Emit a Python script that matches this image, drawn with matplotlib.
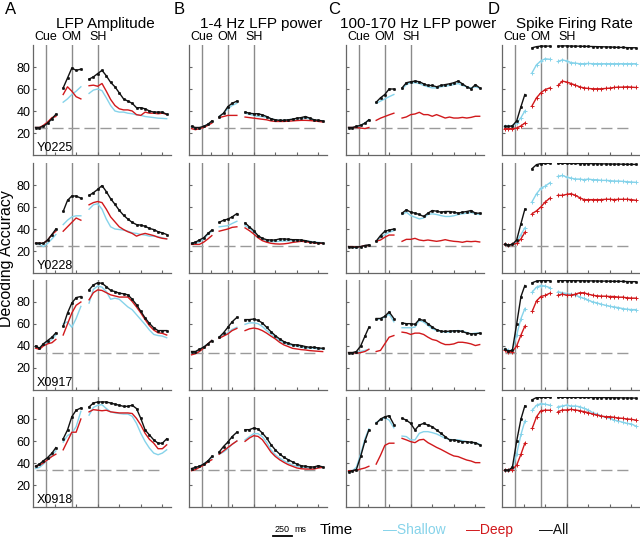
import matplotlib
matplotlib.use("Agg")
import matplotlib.pyplot as plt
from matplotlib.lines import Line2D

plt.rcParams['font.family'] = ['Liberation Sans', 'DejaVu Sans']

# time (ms) of the samples in the three epochs (around Cue, OM and SH)
t_cue = [30, 75, 120, 170, 220, 265]
t_om = [350, 400, 450, 500, 555]
t_sh = [650, 700, 750, 800, 850, 900, 950, 1000, 1050, 1100,
        1150, 1200, 1250, 1300, 1350, 1400, 1450, 1500, 1550]
event_names = ['Cue', 'OM', 'SH']
event_ms = [150, 450, 750]
x_ticks = [250, 500, 750, 1000, 1250, 1500]
y_ticks = [20, 40, 60, 80]

sessions = ['Y0225', 'Y0228', 'X0917', 'X0918']
chance = [25, 25, 33.3, 33.3]
titles = ['LFP Amplitude', '1-4 Hz LFP power', '100-170 Hz LFP power', 'Spike Firing Rate']
letters = ['A', 'B', 'C', 'D']

# ---- A: LFP amplitude ----
amp_Y0225_all = [25, 25, 26, 29, 33, 37, 61, 70, 79, 77, 78, 69, 71, 74, 77, 72, 66, 62, 56.5, 51, 49, 47, 43, 43, 42, 40, 39, 39, 39, 37]
amp_Y0225_sh = [25, 25, 26, 29, 33, 36, 48, 51, 55, 58, 62, 56, 59, 60, 58.5, 52, 45, 40, 39, 39, 38, 37.5, 36.5, 36, 35, 34.5, 34, 33.5, 33.3, 33]
amp_Y0225_dp = [25, 25, 27, 30, 34, 35, 55, 62, 58, 53, 51, 63, 63.5, 62.5, 65, 58, 50.5, 45, 42, 41, 41, 40, 36.7, 36, 39, 38, 38, 37.5, 38, 37]
amp_Y0228_all = [27, 27, 27, 30, 35, 40, 56, 66, 70, 70, 68, 70.5, 73, 76, 79.5, 74, 67.5, 62.5, 57, 52.5, 49, 46, 44, 43.5, 42.5, 40.5, 39.5, 37.5, 36.5, 35]
amp_Y0228_sh = [27, 26, 24, 27, 31, 35, 44, 48, 51, 52, 52, 58, 62, 63, 58, 49, 42, 40, 39.5, 39, 38, 36.5, 36, 35, 34.5, 33.5, 33.5, 33, 32, 31]
amp_Y0228_dp = [27, 27, 27, 30, 35, 38, 38, 42, 46, 50, 48, 62, 64, 65, 64, 58, 51, 46.5, 42, 39.5, 37.5, 36, 33.5, 35, 36, 35, 34, 32.5, 31.5, 31]
amp_X0917_all = [40, 38, 42, 45, 48, 52, 58, 70, 79, 84, 85, 91, 95.5, 97.5, 97, 94, 90.5, 89.5, 88, 87.5, 86.5, 82.5, 77.5, 71.5, 65.5, 60.5, 56.5, 54, 54, 54]
amp_X0917_sh = [39, 38, 41, 43, 46, 50, 60, 62, 57, 65, 76, 79, 91.5, 94.5, 93.5, 89.5, 82.5, 83.5, 82.5, 79, 75.5, 73, 68.5, 64, 59.5, 54.5, 50.5, 49.5, 49, 47.5]
amp_X0917_dp = [38, 37, 40, 42, 43, 46, 50, 60, 70, 77, 80, 82, 88.5, 91, 90.5, 88.5, 86.5, 85.5, 84.5, 84.5, 84.5, 80.5, 75.5, 70, 64, 58.5, 54.5, 52, 51.5, 50]
amp_X0918_all = [37, 39, 42, 45, 49, 54, 62, 70, 82, 88, 90, 91, 94.5, 95.5, 95.5, 95.5, 94.5, 93.5, 92.5, 91.5, 91.5, 92.5, 89.5, 80.5, 70, 65.5, 61, 58, 58, 62]
amp_X0918_sh = [35, 36, 39, 43, 47, 51, 59, 65, 67, 73, 87, 83.5, 90.5, 92.5, 93, 89.5, 86.5, 85.5, 85, 84.5, 84.5, 82.5, 76, 67, 59.5, 53.5, 49, 47.5, 49, 52]
amp_X0918_dp = [37, 38, 40, 43, 46, 48, 52, 60, 68, 68, 80, 86.5, 88.5, 88, 87.5, 88, 86.5, 86, 85.5, 85.5, 85.5, 85, 80.5, 74.5, 67, 61.5, 58, 53, 53, 56.5]

# ---- B: 1-4 Hz LFP power ----
low_Y0225_all = [26, 25, 25, 26, 28, 31, 35, 38, 44, 47, 49, 39, 38, 37.5, 37.5, 36.5, 35, 33, 32, 31.5, 31.5, 32, 32.5, 33.5, 34, 35, 33.5, 32, 31.5, 31]
low_Y0225_sh = [25, 24, 24, 26, 28, 30, 35, 38, 42, 45, 47, 38, 37, 36, 35, 35, 34, 33, 32, 31.5, 31.5, 32, 32.5, 33, 33, 33.5, 33, 32, 31, 30.5]
low_Y0225_dp = [24, 23, 24, 25, 27, 29, 34, 35, 36, 36, 36, 34.5, 34, 33.5, 33, 32.5, 32, 31, 30.5, 30.5, 30.5, 30.7, 31, 31.3, 31.5, 31.5, 31.3, 31, 30.5, 30]
low_Y0228_all = [27, 28, 30, 32, 36, 39, 46, 48, 49, 51, 54, 45.5, 42, 38.5, 34, 31.5, 30.3, 30, 30, 31, 31, 30.7, 30.3, 30.3, 30, 29.4, 28.5, 27.8, 27.5, 27.2]
low_Y0228_sh = [27, 27, 28, 31, 35, 38, 42, 42.5, 43, 45, 47, 43, 41, 37, 33.5, 30.5, 29.5, 28.5, 28.5, 28.8, 29, 29.2, 29.4, 29.4, 29.4, 29.3, 28.8, 28.2, 27.8, 27.5]
low_Y0228_dp = [26, 26, 26, 28, 31, 34, 38, 39, 40, 41.5, 42, 41, 38.5, 35.5, 32, 29.4, 28, 27, 26.5, 26.3, 26.5, 27, 27.8, 28.3, 28.8, 28.5, 27.8, 27.3, 27, 26.9]
low_X0917_all = [35, 35, 37, 39, 42, 45, 48, 52, 57, 62, 66, 64, 64, 64.5, 63.3, 61, 57, 53, 49.5, 46.5, 44, 42.5, 41.3, 41, 40.4, 39.5, 38.8, 38.8, 38.2, 37.9]
low_X0917_sh = [34, 34, 36, 39, 42, 45, 48, 50, 52, 55, 57, 59.7, 61, 61, 60.3, 57.8, 54, 51, 48, 45, 42.8, 41.3, 40.4, 39.8, 38.8, 38.2, 37.9, 37.9, 37.3, 37]
low_X0917_dp = [32, 33, 35, 38, 42, 45, 47, 49, 51, 54, 56, 54, 55.6, 56.3, 55.6, 54, 51.7, 49, 46.5, 43.4, 41, 39.5, 37.9, 37.3, 36.7, 36.4, 35.8, 35.5, 35.2, 34.9]
low_X0918_all = [35, 36, 37, 39, 42, 46, 50, 55, 59, 64, 68, 70.3, 70.3, 71.8, 70.9, 67.3, 62.7, 56.7, 52, 48.2, 45.2, 43, 41, 39, 37.6, 37, 36.4, 36.4, 37.6, 36.4]
low_X0918_sh = [34, 35, 37, 39, 42, 45, 48, 50, 53, 57, 60, 61, 64, 66.7, 66.7, 64, 58.8, 52, 47.6, 44.5, 42, 40, 38.2, 37, 36.4, 35.8, 35.5, 35.5, 36, 36]
low_X0918_dp = [33, 34, 36, 38, 41, 43, 48, 51, 54, 57, 60, 59.7, 62.7, 64.8, 64.2, 61.2, 55.8, 50, 46, 43, 40.6, 38.5, 37, 35.5, 34.8, 34.5, 34.5, 34.5, 35.5, 36]

# ---- C: 100-170 Hz LFP power ----
high_Y0225_all = [25, 25, 26, 27, 29, 32, 48, 52, 55, 60, 60, 61, 65.7, 66.6, 67.2, 66.6, 64.7, 63.2, 63.2, 62, 63.2, 64, 64.7, 65.7, 67.2, 64.7, 62, 60.2, 64, 61]
high_Y0225_sh = [25, 25, 25.5, 27, 29, 32, 47, 49, 51, 53, 55, 60, 64, 65.7, 65.7, 65, 63.2, 62, 61, 61, 62, 62.6, 63.2, 64, 65, 63.2, 62, 61, 62, 60.8]
high_Y0225_dp = [25, 25, 25, 24.5, 24, 25, 31.5, 33.5, 35, 36.5, 38, 33.6, 34.6, 36.7, 37.3, 38.8, 36.7, 36.7, 35.2, 36.7, 35.2, 33.6, 34.5, 33.6, 33.6, 34.2, 33.6, 34.2, 35.2, 35.2]
high_Y0228_all = [24, 23.5, 23.5, 24, 25, 25.5, 29, 34, 38, 39, 40, 54.4, 57.5, 55.3, 54.4, 53.2, 51.4, 54.4, 56.8, 56.2, 55.3, 55.9, 55.9, 55.3, 54.4, 55.3, 55.9, 56.8, 54.4, 54.4]
high_Y0228_sh = [24, 23.5, 22.5, 24, 25, 25.5, 29, 32, 35, 37, 38.5, 53.2, 55.3, 52.2, 50.7, 49.2, 50, 53.2, 53.8, 53.2, 52.2, 51.4, 51.4, 52, 53.2, 53.8, 54.4, 55, 53.8, 53.2]
high_Y0228_dp = [24, 24, 23.5, 24, 25, 25, 29, 30, 32.5, 34.5, 34.5, 28.8, 30.6, 30.6, 31.5, 30, 29.4, 30, 29.4, 28.8, 29.4, 30.3, 29.4, 28.8, 28.5, 27.9, 28.8, 28.5, 28.8, 28.2]
high_X0917_all = [34, 34, 35, 40, 49, 57, 65, 65, 67, 71, 65, 61, 60.3, 60.3, 59.7, 64.2, 63.3, 60.3, 57.2, 54.8, 53.5, 53.2, 53.5, 53.8, 53.8, 53.2, 51.7, 51.1, 51.1, 51.7]
high_X0917_sh = [34, 34, 34, 35, 36, 37, 64, 65, 66, 69, 62, 56.6, 56.6, 56.6, 57.2, 63.3, 61.8, 58.7, 55.7, 54.1, 53.2, 52.6, 52.6, 53.5, 54.1, 53.5, 52.3, 51.1, 51.7, 51.7]
high_X0917_dp = [34, 34, 33.5, 34, 35, 37, 35, 36, 42, 48, 49.5, 52.6, 52, 50.5, 51.7, 51.7, 50.5, 48, 45.9, 45, 42.8, 41.3, 41.3, 41.9, 43.4, 43.4, 42.8, 41.9, 40.4, 41.3]
high_X0918_all = [32, 33, 34, 46, 60, 70, 76, 80, 82, 83, 75, 80.6, 79, 76, 70, 74.5, 76, 74.5, 73, 70, 67, 64, 61, 61, 60.3, 59.4, 59.4, 58.8, 58.5, 56.4]
high_X0918_sh = [33, 33, 36, 48, 62, 71, 77, 79, 81, 79, 72, 64.5, 64, 61, 61, 67, 68.5, 68.5, 67.6, 66.4, 64.5, 62.4, 61.5, 61, 61, 60.3, 59.4, 58.5, 58.5, 57]
high_X0918_dp = [33, 33, 33.5, 34.5, 35.5, 37, 39, 47, 56, 58, 58, 62.4, 61, 59.4, 58.5, 61, 61.5, 58.5, 56.4, 54.2, 52.4, 50.3, 48.2, 46.4, 45.8, 44.2, 42.7, 41.8, 40.3, 40.3]

# ---- D: spike firing rate ----
spk_Y0225_all = [26, 26, 26.5, 31, 44, 55, 97.5, 98.5, 99, 99, 99, 99, 99.2, 99.2, 99, 99, 98.9, 98.8, 98.7, 98.6, 98.5, 98.4, 98.3, 98.2, 98, 97.8, 97.8, 97.6, 97.5, 97.5]
spk_Y0225_sh = [26, 26, 26.5, 29, 34, 40, 75, 82, 85.5, 87.5, 87, 85, 86.5, 85.5, 84, 83.5, 83, 83, 83.2, 83, 83, 83, 83, 83, 83, 83, 83, 83, 83, 83]
spk_Y0225_dp = [24, 24, 24, 24.5, 26.5, 29, 45, 52, 56.5, 59.5, 61, 63.2, 67.2, 66.3, 65, 63.5, 62, 61, 60.5, 60.2, 60.2, 60.2, 60.5, 60.8, 61.4, 61.7, 61.7, 62, 61.7, 61.4]
spk_Y0228_all = [26, 25.5, 26, 30, 45, 58, 95, 98.5, 99.5, 99.7, 99.7, 99.7, 99.7, 99.7, 99.6, 99.6, 99.5, 99.5, 99.4, 99.4, 99.3, 99.2, 99.2, 99.1, 99, 99, 98.9, 98.8, 98.8, 98.7]
spk_Y0228_sh = [26, 25.5, 26, 28, 35, 41, 65, 72, 77, 79, 82, 87.8, 88.7, 87.2, 86.3, 85.4, 85.4, 84.8, 85.4, 84.8, 84.8, 84.2, 84.2, 84, 83.6, 83.6, 83.3, 83, 82.7, 82.4]
spk_Y0228_dp = [26, 25.5, 26, 27, 31, 37, 54, 56.5, 60, 64.5, 68, 70.6, 70.6, 71.5, 72.1, 70.6, 68.5, 66.7, 66.7, 66.7, 66.7, 66.7, 67, 67, 66.7, 67, 67, 67, 66.7, 66.1]
spk_X0917_all = [37, 35.5, 36, 60, 85, 95, 97.5, 99, 99.5, 99.5, 99.5, 99.5, 99.5, 99.5, 99.4, 99.4, 99.3, 99.3, 99.2, 99.2, 99.1, 99, 99, 98.9, 98.8, 98.8, 98.7, 98.6, 98.5, 98.5]
spk_X0917_sh = [37, 36, 36, 50, 65, 74, 89, 93.5, 95, 94.5, 93, 89.3, 88.4, 87.7, 87.1, 86.2, 84.7, 83.2, 81.7, 80.1, 79.2, 78, 77, 76.1, 75.5, 74.9, 74, 73.4, 73.1, 73.1]
spk_X0917_dp = [36, 35, 35, 40, 50, 58, 71.5, 81, 85, 86, 88, 86.2, 87.1, 86.2, 86.2, 87.1, 88.4, 88.4, 87.1, 86.2, 85.6, 85.3, 85.3, 85, 85, 84.4, 84.4, 83.8, 83.5, 83.5]
spk_X0918_all = [33.5, 33.5, 36, 60, 80, 92, 97.5, 99.5, 99.7, 99.7, 99.7, 99.7, 99.7, 99.7, 99.7, 99.7, 99.6, 99.6, 99.6, 99.5, 99.5, 99.5, 99.4, 99.4, 99.3, 99.3, 99.2, 99.2, 99.1, 99]
spk_X0918_sh = [33.5, 33.5, 35, 48, 66, 78, 88, 92.5, 94, 93.5, 92.5, 91.2, 91.8, 92.7, 91.8, 91.8, 91.2, 89.7, 88.2, 85.8, 84.5, 82.7, 81.5, 80.6, 79, 78.2, 77, 76, 75.5, 73.6]
spk_X0918_dp = [33.5, 33.5, 34, 38, 48, 58, 71.5, 82, 87.5, 88, 88, 86.7, 88.2, 88.2, 88.8, 88.2, 87.6, 86.7, 85.8, 84.5, 83.6, 82.7, 82.1, 82.1, 81.5, 80.9, 80.6, 80, 79.7, 79]

columns = [
    [(amp_Y0225_sh, amp_Y0225_dp, amp_Y0225_all), (amp_Y0228_sh, amp_Y0228_dp, amp_Y0228_all),
     (amp_X0917_sh, amp_X0917_dp, amp_X0917_all), (amp_X0918_sh, amp_X0918_dp, amp_X0918_all)],
    [(low_Y0225_sh, low_Y0225_dp, low_Y0225_all), (low_Y0228_sh, low_Y0228_dp, low_Y0228_all),
     (low_X0917_sh, low_X0917_dp, low_X0917_all), (low_X0918_sh, low_X0918_dp, low_X0918_all)],
    [(high_Y0225_sh, high_Y0225_dp, high_Y0225_all), (high_Y0228_sh, high_Y0228_dp, high_Y0228_all),
     (high_X0917_sh, high_X0917_dp, high_X0917_all), (high_X0918_sh, high_X0918_dp, high_X0918_all)],
    [(spk_Y0225_sh, spk_Y0225_dp, spk_Y0225_all), (spk_Y0228_sh, spk_Y0228_dp, spk_Y0228_all),
     (spk_X0917_sh, spk_X0917_dp, spk_X0917_all), (spk_X0918_sh, spk_X0918_dp, spk_X0918_all)],
]

CYAN = '#86d3ea'
RED = '#d1191c'
BLACK = '#111111'
GRAY = '#8a8a8a'
SPINE = '#666666'

W, H = 640, 537
fig = plt.figure(figsize=(W / 100, H / 100), dpi=100)

col_left = [33, 189, 346, 502]
row_top = [45, 163, 280, 397]
ax_w, ax_h = 138, 110
letter_x = [5, 174, 328, 488]


def segments(values):
    n1, n2 = len(t_cue), len(t_cue) + len(t_om)
    return [(t_cue, values[:n1]), (t_om, values[n1:n2]), (t_sh, values[n2:])]


for c in range(4):
    for r in range(4):
        ax = fig.add_axes([col_left[c] / W, 1 - (row_top[r] + ax_h) / H, ax_w / W, ax_h / H])
        sh, dp, al = columns[c][r]
        for ev in event_ms:
            ax.axvline(ev, color=GRAY, lw=1.0, zorder=1)
        ax.hlines(chance[r], t_cue[0], t_sh[-2], colors='#9a9a9a', lw=1.0,
                  linestyles=(0, (8, 3.5)), zorder=1)
        mk_col = '+' if c == 3 else None
        for vals, col, mk, ms in [(sh, CYAN, mk_col, 3), (dp, RED, mk_col, 3), (al, BLACK, 's', 1.2)]:
            for tx, ty in segments(vals):
                ax.plot(tx, ty, color=col, lw=1.0, marker=mk, ms=ms, mew=0.7, zorder=3)
        ax.set_xlim(0, 1600)
        ax.set_ylim(0, 100)
        ax.set_xticks(x_ticks)
        ax.set_yticks(y_ticks)
        ax.set_xticklabels([])
        ax.tick_params(direction='in', length=2.5, width=0.8, colors=SPINE,
                       labelcolor='black', labelsize=9, pad=2)
        if c != 0:
            ax.set_yticklabels([])
        else:
            ax.text(0.025, 0.01, sessions[r], transform=ax.transAxes, fontsize=9,
                    ha='left', va='bottom')
        for s in ['top', 'right']:
            ax.spines[s].set_visible(False)
        for s in ['left', 'bottom']:
            ax.spines[s].set_color(SPINE)
            ax.spines[s].set_linewidth(0.9)
        if r == 0:
            for ev, name in zip(event_ms, event_names):
                ax.text(ev, 101.5, name, ha='center', va='bottom', fontsize=9, clip_on=False)
    cx = (col_left[c] + ax_w / 2 + 3) / W
    fig.text(cx, 1 - 28 / H, titles[c], ha='center', va='baseline', fontsize=11)
    fig.text(letter_x[c] / W, 1 - 2 / H, letters[c], ha='left', va='top', fontsize=12)

fig.text(7 / W, 1 - 259 / H, 'Decoding Accuracy', rotation=90, ha='center', va='center', fontsize=11.5)

# bottom: scale bar, axis name and legend
fig.add_artist(Line2D([273 / W, 292 / W], [1.5 / H, 1.5 / H], color='black', lw=1.3))
fig.text(282.5 / W, 1 - 530 / H, '250', ha='center', va='center', fontsize=6.5)
fig.text(294 / W, 1 - 530 / H, 'ms', ha='left', va='center', fontsize=6.5)
fig.text(320 / W, 1 - 530 / H, 'Time', ha='left', va='center', fontsize=11)
fig.text(383 / W, 1 - 530 / H, '\u2014Shallow', ha='left', va='center', fontsize=10, color=CYAN)
fig.text(466 / W, 1 - 530 / H, '\u2014Deep', ha='left', va='center', fontsize=10, color=RED)
fig.text(539 / W, 1 - 530 / H, '\u2014All', ha='left', va='center', fontsize=10, color=BLACK)

fig.savefig('out.png', dpi=100)
